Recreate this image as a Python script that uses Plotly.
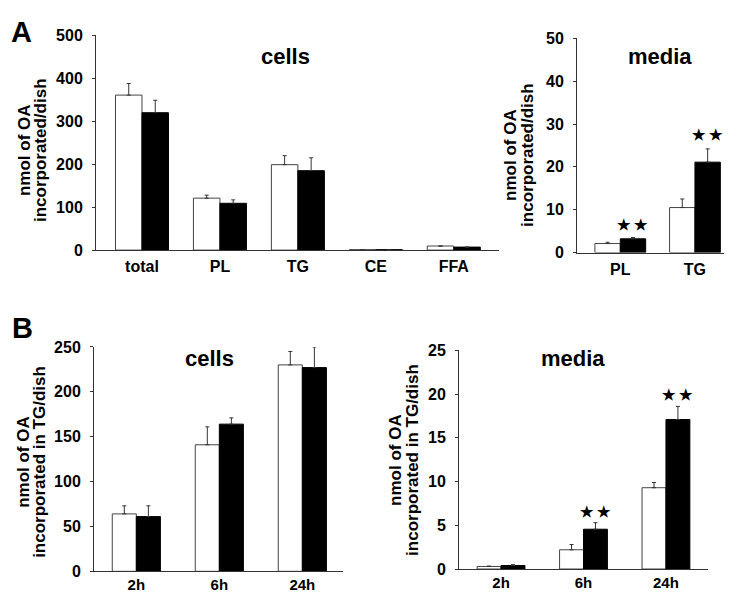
import plotly.graph_objects as go

W, H = 732, 594

# ---------------- data ----------------
a_cells_cats = ["total", "PL", "TG", "CE", "FFA"]
a_cells_white = [361, 121, 199, 1, 9.5]
a_cells_white_err = [27, 7, 21, 0, 0]
a_cells_black = [320, 109, 185, 1, 7]
a_cells_black_err = [29, 8, 30, 0, 0]

a_media_cats = ["PL", "TG"]
a_media_white = [2.1, 10.5]
a_media_white_err = [0.3, 2.0]
a_media_black = [3.2, 21.1]
a_media_black_err = [0.3, 3.1]

b_cats = ["2h", "6h", "24h"]
b_cells_white = [64, 141, 230]
b_cells_white_err = [9, 20, 15]
b_cells_black = [61, 164, 227]
b_cells_black_err = [12, 7, 23]

b_media_white = [0.29, 2.2, 9.3]
b_media_white_err = [0.05, 0.6, 0.6]
b_media_black = [0.4, 4.55, 17.1]
b_media_black_err = [0.1, 0.75, 1.5]

# significance marks (category index, y value)
a_media_sig = [(0, 6.5), (1, 27.6)]
b_media_sig = [(1, 6.6), (2, 20.0)]

FONT = "Liberation Sans, Arial, sans-serif"
AX = "#333333"


def px(x):
    return x / W


def py(y):
    return 1 - y / H


panels = [
    ("", a_cells_cats, a_cells_white, a_cells_white_err, a_cells_black, a_cells_black_err,
     (88, 491), (20, 241), [0, 500], 100, [-0.59, 4.58], 0.34),
    ("2", a_media_cats, a_media_white, a_media_white_err, a_media_black, a_media_black_err,
     (569, 731), (23, 243.5), [0, 50], 10, [-0.58, 1.59], 0.34),
    ("3", b_cats, b_cells_white, b_cells_white_err, b_cells_black, b_cells_black_err,
     (86, 335), (340.7, 571.7), [0, 250], 50, [-0.51, 2.49], 0.29),
    ("4", b_cats, b_media_white, b_media_white_err, b_media_black, b_media_black_err,
     (451, 700), (344.3, 569.3), [0, 25], 5, [-0.51, 2.51], 0.29),
]

fig = go.Figure()
layout = {}
for name, cats, wv, we, bv, be, xd, yd, yr, dt, xr, bw in panels:
    xa = "x" + name
    ya = "y" + name
    xs = list(range(len(cats)))
    fig.add_trace(go.Bar(
        x=xs, y=wv, xaxis=xa, yaxis=ya, width=bw, offset=-bw,
        marker=dict(color="white", line=dict(color="#444444", width=1)),
        error_y=dict(type="data", array=we, arrayminus=[0] * len(we), symmetric=False,
                     thickness=1, width=2, color="#333333"),
        showlegend=False, hoverinfo="skip"))
    fig.add_trace(go.Bar(
        x=xs, y=bv, xaxis=xa, yaxis=ya, width=bw, offset=0,
        marker=dict(color="black", line=dict(color="black", width=1)),
        error_y=dict(type="data", array=be, arrayminus=[0] * len(be), symmetric=False,
                     thickness=1, width=2, color="#333333"),
        showlegend=False, hoverinfo="skip"))
    top = name in ("", "2")
    layout["xaxis" + name] = dict(
        domain=[px(xd[0]), px(xd[1])], anchor=ya, range=xr,
        tickvals=xs, ticktext=cats, showline=True, linecolor=AX, linewidth=1,
        ticks="", showgrid=False, zeroline=False, ticklabelstandoff=2 if top else 0,
        tickfont=dict(family=FONT, size=16 if top else 15, color="black", weight="bold"))
    layout["yaxis" + name] = dict(
        domain=[py(yd[1]), py(yd[0])], anchor=xa, range=yr, dtick=dt,
        showline=True, linecolor=AX, linewidth=1, ticks="outside", ticklen=3,
        tickcolor=AX, showgrid=False, zeroline=False, ticklabelstandoff=6,
        tickfont=dict(family=FONT, size=16, color="black", weight="bold"))

annotations = []


def add_text(text, x, y, size, angle=0, xref="paper", yref="paper"):
    annotations.append(dict(text=text, x=x, y=y, xref=xref, yref=yref, showarrow=False,
                            textangle=angle, xanchor="center", yanchor="middle",
                            font=dict(family=FONT, size=size, color="black", weight="bold")))


# panel letters
add_text("A", px(13), py(16), 29)
add_text("B", px(15), py(321), 29)

# subplot titles
add_text("cells", px(277), py(42), 22)
add_text("media", px(652), py(42), 22)
add_text("cells", px(202), py(353), 22)
add_text("media", px(564.5), py(353), 22)

# y axis titles (two lines each)
add_text("nmol of OA", px(16), py(138), 17, -90)
add_text("incorporated/dish", px(32), py(138), 17, -90)
add_text("nmol of OA", px(503), py(143), 17, -90)
add_text("incorporated/dish", px(520), py(143), 17, -90)
add_text("nmol of OA", px(16), py(459), 17, -90)
add_text("incorporated in TG/dish", px(32), py(459), 17, -90)
add_text("nmol of OA", px(388), py(457), 17, -90)
add_text("incorporated in TG/dish", px(405), py(457), 17, -90)

# significance stars
for idx, yv in a_media_sig:
    add_text("★ ★", idx + 0.17, yv, 15, xref="x2", yref="y2")
for idx, yv in b_media_sig:
    add_text("★ ★", idx + 0.145, yv, 15, xref="x4", yref="y4")

fig.update_layout(
    width=W, height=H, margin=dict(l=0, r=0, t=0, b=0),
    paper_bgcolor="white", plot_bgcolor="white", barmode="overlay",
    annotations=annotations, **layout)

fig.write_html("out.html")
